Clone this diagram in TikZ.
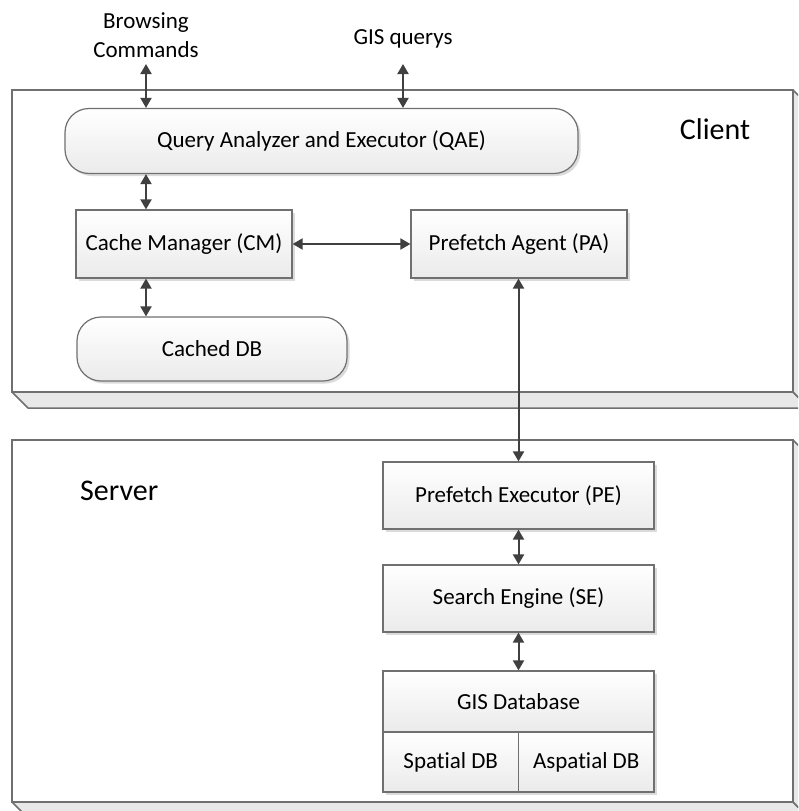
\documentclass[tikz,border=0pt]{standalone}
\usepackage{fontspec}
\setmainfont[RawFeature=-liga]{Carlito}
\usetikzlibrary{arrows.meta,shadows,calc}

\definecolor{edge}{HTML}{707070}
\definecolor{arrowcol}{HTML}{404040}
\definecolor{shelf}{HTML}{E8E8E8}

\tikzset{
  unit/.style={draw=edge, line width=1.2pt, top color=white, bottom color=black!8,
    drop shadow={shadow xshift=2.5pt, shadow yshift=-2.5pt, fill=black!14, opacity=1},
    font=\fontsize{23}{26}\selectfont, inner sep=0pt},
  roundunit/.style={unit, rounded corners=24pt},
  caption/.style={font=\fontsize{23}{29}\selectfont, align=center, inner sep=0pt},
  tier/.style={font=\fontsize{30}{34}\selectfont, inner sep=0pt},
  biarr/.style={draw=arrowcol, line width=2pt,
    {Triangle[length=10pt,width=11pt]}-{Triangle[length=10pt,width=11pt]}, fill=arrowcol},
  face/.style={draw=edge, line width=1.5pt, fill=white},
  side/.style={draw=edge, line width=1.5pt, fill=shelf, line join=bevel}
}

\begin{document}
\begin{tikzpicture}[x=1pt, y=-1pt]
  \useasboundingbox (0,0) rectangle (798,811);
  \clip (0,0) rectangle (798,811);
  \fill[white] (0,0) rectangle (798,811);

  % client tier: 3D slab
  \filldraw[side] (12,392) -- (793,392) -- (809,408) -- (28,408) -- cycle;
  \filldraw[side] (793,90) -- (809,106) -- (809,408) -- (793,392) -- cycle;
  \filldraw[face] (12,90) rectangle (793,392);

  % server tier: 3D slab
  \filldraw[side] (12,802) -- (793,802) -- (809,818) -- (28,818) -- cycle;
  \filldraw[side] (793,440) -- (809,456) -- (809,818) -- (793,802) -- cycle;
  \filldraw[face] (12,440) rectangle (793,802);

  \node[tier] (client) at (715,129) {Client};
  \node[tier, anchor=west] (server) at (80,491) {Server};

  % client components
  \node[roundunit, minimum width=513pt, minimum height=65pt] (qae) at (321.5,141) {Query Analyzer and Executor (QAE)};
  \node[unit, minimum width=216pt, minimum height=68pt] (cm) at (184,244) {Cache Manager (CM)};
  \node[unit, minimum width=216pt, minimum height=68pt] (pa) at (519,244) {Prefetch Agent (PA)};
  \node[roundunit, minimum width=270pt, minimum height=64pt] (cdb) at (212,349) {Cached DB};

  % server components
  \node[unit, minimum width=271pt, minimum height=67pt] (pe) at (518.5,495.5) {Prefetch Executor (PE)};
  \node[unit, minimum width=271pt, minimum height=67pt] (se) at (518.5,598.5) {Search Engine (SE)};
  \node[unit, minimum width=271pt, minimum height=61pt] (gis) at (518.5,701.5) {GIS Database};
  \node[unit, minimum width=135.5pt, minimum height=60pt] (sdb) at (450.75,762) {Spatial DB};
  \node[unit, minimum width=135.5pt, minimum height=60pt] (adb) at (586.25,762) {Aspatial DB};

  % external inputs
  \node[caption] (browse) at (146,35) {Browsing\\Commands};
  \node[caption] (gisq) at (403,39) {GIS querys};
  \coordinate (browseEnd) at (146,64);
  \coordinate (gisqEnd) at (403,64);
  \coordinate (colA) at (146,0);
  \coordinate (colB) at (518.5,0);

  % connectors
  \draw[biarr] (browseEnd) -- (qae.north -| browseEnd);
  \draw[biarr] (gisqEnd) -- (qae.north -| gisqEnd);
  \draw[biarr] (qae.south -| colA) -- (cm.north -| colA);
  \draw[biarr] (cm.south -| colA) -- (cdb.north -| colA);
  \draw[biarr] (cm.east) -- (pa.west);
  \draw[biarr] (pa.south -| colB) -- (pe.north -| colB);
  \draw[biarr] (pe.south) -- (se.north);
  \draw[biarr] (se.south) -- (gis.north);
\end{tikzpicture}
\end{document}
